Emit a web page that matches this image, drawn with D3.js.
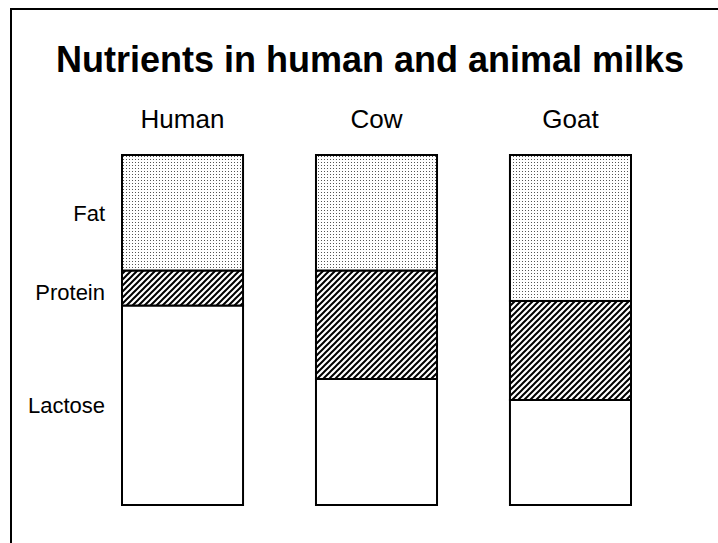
<!DOCTYPE html>
<html>
<head>
<meta charset="utf-8">
<script src="https://cdn.jsdelivr.net/npm/d3@7"></script>
<style>
  html, body { margin: 0; padding: 0; background: #fff; }
  svg { display: block; }
  text { font-family: "Liberation Sans", Arial, Helvetica, sans-serif; fill: #000; }
</style>
</head>
<body>
<script>
const title = "Nutrients in human and animal milks";
const milks = ["Human", "Cow", "Goat"];
const nutrients = ["Fat", "Protein", "Lactose"];
// share of each nutrient (percent of bar)
const fat = [33, 33, 41.7];
const protein = [10, 31, 28.3];
const lactose = [57, 36, 30];

const W = 718, H = 543;
const svg = d3.select("body").append("svg").attr("width", W).attr("height", H);

const defs = svg.append("defs");
const dots = defs.append("pattern").attr("id", "dots")
  .attr("patternUnits", "userSpaceOnUse").attr("width", 3).attr("height", 3);
dots.append("rect").attr("width", 3).attr("height", 3).attr("fill", "#fff");
dots.append("rect").attr("x", 0).attr("y", 0).attr("width", 1).attr("height", 1).attr("fill", "#555");

const hatch = defs.append("pattern").attr("id", "hatch")
  .attr("patternUnits", "userSpaceOnUse").attr("width", 6).attr("height", 6);
hatch.append("rect").attr("width", 6).attr("height", 6).attr("fill", "#fff");
hatch.append("path").attr("d", "M-1,1 L1,-1 M0,6 L6,0 M5,7 L7,5")
  .attr("stroke", "#000").attr("stroke-width", 2);

// frame
svg.append("rect").attr("x", 11).attr("y", 9).attr("width", 720).attr("height", 560)
  .attr("fill", "none").attr("stroke", "#000").attr("stroke-width", 2);

svg.append("text").attr("x", 370).attr("y", 72).attr("text-anchor", "middle")
  .attr("font-size", 36).attr("font-weight", "bold").text(title);

const x = d3.scaleBand().domain(milks).range([122, 631]).paddingInner(0.376).paddingOuter(0);
const y = d3.scaleLinear().domain([0, 100]).range([505, 155]);

const data = milks.map((m, i) => ({ milk: m, Fat: fat[i], Protein: protein[i], Lactose: lactose[i] }));
const stack = d3.stack().keys(["Lactose", "Protein", "Fat"])(data);
const fills = { Fat: "url(#dots)", Protein: "url(#hatch)", Lactose: "#fff" };

const g = svg.append("g");
stack.forEach(layer => {
  g.selectAll(null).data(layer).join("rect")
    .attr("x", d => x(d.data.milk))
    .attr("width", x.bandwidth())
    .attr("y", d => y(d[1]))
    .attr("height", d => y(d[0]) - y(d[1]))
    .attr("fill", fills[layer.key])
    .attr("stroke", "#000").attr("stroke-width", 2);
});

svg.selectAll(".col").data(milks).join("text")
  .attr("x", d => x(d) + x.bandwidth() / 2).attr("y", 128)
  .attr("text-anchor", "middle").attr("font-size", 26).text(d => d);

// row labels beside the first bar
svg.selectAll(".row").data(stack).join("text")
  .attr("x", 105).attr("text-anchor", "end")
  .attr("y", d => (y(d[0][0]) + y(d[0][1])) / 2 + 8 + (d.key === "Protein" ? 4 : 0))
  .attr("font-size", 22).text(d => d.key);
</script>
</body>
</html>
